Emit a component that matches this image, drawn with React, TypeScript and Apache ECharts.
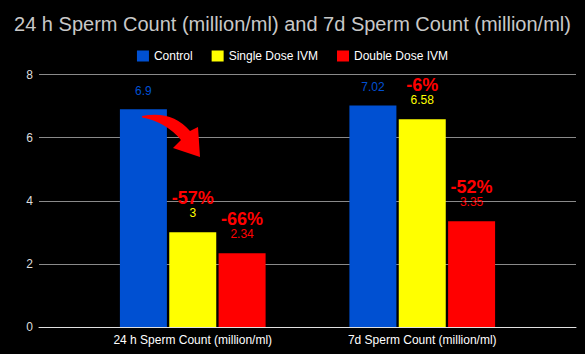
import React, { useEffect, useRef } from "react";
import * as echarts from "echarts";

const categories = ["24 h Sperm Count (million/ml)", "7d Sperm Count (million/ml)"];
const seriesNames = ["Control", "Single Dose IVM", "Double Dose IVM"];
const controlValues = [6.9, 7.02];
const singleValues = [3, 6.58];
const doubleValues = [2.34, 3.35];
const singlePct = ["-57%", "-6%"];
const doublePct = ["-66%", "-52%"];
const yTicks = { min: 0, max: 8, interval: 2 };

const BLUE = "#0050d2";
const YELLOW = "#ffff00";
const RED = "#ff0000";
const FONT = "Liberation Sans, Arial, sans-serif";

const ARROW_D =
  "M142,116 Q172,110 190,131 L198,127 L200,157 L173,148 L181,140 Q166,122 142,117.5 Z";

let registered = false;

export default function App() {
  const ref = useRef<HTMLDivElement>(null);
  useEffect(() => {
    document.body.style.margin = "0";
    document.body.style.background = "#000";
    if (!registered) {
      const ArrowPath = echarts.graphic.extendPath(ARROW_D, {});
      echarts.graphic.registerShape("curvedArrow", ArrowPath);
      registered = true;
    }
    const chart = echarts.init(ref.current!, null, { renderer: "svg" });
    const pctLabel = (pcts: string[], color: string) => ({
      show: true,
      position: "top",
      distance: 12,
      formatter: (p: any) => `{p|${pcts[p.dataIndex]}}\n{v|${p.value}}`,
      rich: {
        p: { fontSize: 18, fontWeight: "bold", color: RED, lineHeight: 17, fontFamily: FONT },
        v: { fontSize: 12, color, lineHeight: 14, fontFamily: FONT },
      },
    });
    chart.setOption({
      animation: false,
      backgroundColor: "#000",
      textStyle: { fontFamily: FONT },
      title: {
        text: "24 h Sperm Count (million/ml) and 7d Sperm Count (million/ml)",
        left: "center",
        top: 9,
        textStyle: { color: "#c8c8c8", fontSize: 20, fontWeight: "normal", fontFamily: FONT },
      },
      legend: {
        data: seriesNames,
        top: 45,
        left: "center",
        itemWidth: 12,
        itemHeight: 11,
        itemGap: 19,
        icon: "rect",
        textStyle: { color: "#fff", fontSize: 12, fontFamily: FONT },
      },
      grid: [
        { left: 39, right: 9, top: 74.5, bottom: 27 },
        { left: 78, right: 48, top: 74.5, bottom: 27 },
      ],
      xAxis: [
        {
          gridIndex: 0,
          type: "category",
          data: ["", ""],
          axisLine: { show: true, lineStyle: { color: "#e0e0e0", width: 1 } },
          axisTick: { show: false },
          axisLabel: { show: false },
        },
        {
          gridIndex: 1,
          type: "category",
          data: categories,
          axisLine: { show: false },
          axisTick: { show: false },
          axisLabel: { color: "#fff", fontSize: 12, margin: 7, fontFamily: FONT },
        },
      ],
      yAxis: [
        {
          gridIndex: 0,
          type: "value",
          min: yTicks.min,
          max: yTicks.max,
          interval: yTicks.interval,
          axisLabel: { color: "#ddd", fontSize: 12, margin: 6, fontFamily: FONT },
          splitLine: { lineStyle: { color: "#8a8a8a", width: 1 } },
          axisLine: { show: false },
          axisTick: { show: false },
        },
        {
          gridIndex: 1,
          type: "value",
          min: yTicks.min,
          max: yTicks.max,
          interval: yTicks.interval,
          show: false,
          splitLine: { show: false },
        },
      ],
      series: [
        {
          name: seriesNames[0],
          type: "bar",
          xAxisIndex: 1,
          yAxisIndex: 1,
          data: controlValues,
          barWidth: 47,
          barGap: "5%",
          itemStyle: { color: BLUE },
          label: { show: true, position: "top", distance: 12, color: BLUE, fontSize: 12, fontFamily: FONT },
        },
        {
          name: seriesNames[1],
          type: "bar",
          xAxisIndex: 1,
          yAxisIndex: 1,
          data: singleValues,
          barWidth: 47,
          barGap: "5%",
          itemStyle: { color: YELLOW },
          label: pctLabel(singlePct, YELLOW),
        },
        {
          name: seriesNames[2],
          type: "bar",
          xAxisIndex: 1,
          yAxisIndex: 1,
          data: doubleValues,
          barWidth: 47,
          barGap: "5%",
          itemStyle: { color: RED },
          label: pctLabel(doublePct, RED),
        },
      ],
      graphic: [
        {
          type: "curvedArrow",
          x: 0,
          y: 0,
          z: 100,
          style: { fill: RED },
        },
      ],
    });
    return () => chart.dispose();
  }, []);
  return <div ref={ref} style={{ width: 585, height: 354 }} />;
}
